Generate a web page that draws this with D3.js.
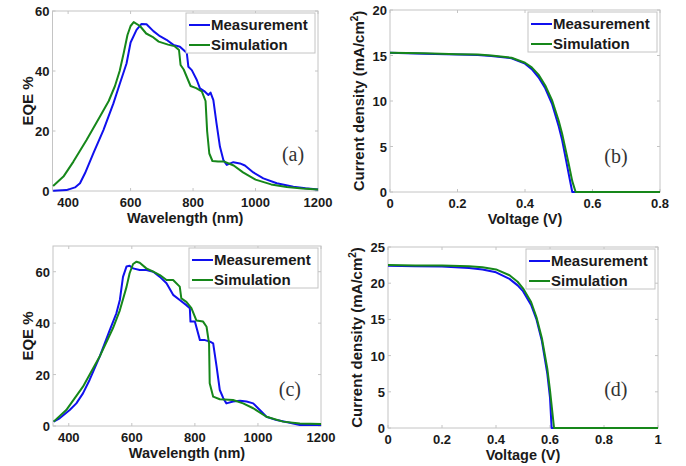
<!DOCTYPE html>
<html>
<head>
<meta charset="utf-8">
<script src="https://cdn.jsdelivr.net/npm/d3@7"></script>
<style>
  body { margin: 0; background: #fff; }
  svg { display: block; }
  text { font-family: Arial, "Liberation Sans", Helvetica, sans-serif; }
  text.tag { font-family: "Liberation Serif", "Times New Roman", serif; }
</style>
</head>
<body>
<script>
// EQE, panel (a): [wavelength nm, EQE %]
const eqeMeasA = [[352,0.1],[395,0.3],[422,1.2],[438,2.6],[454,5.9],[481,12.6],[513,20.3],[545,29.2],[566,35.9],[587,42.5],[600,49.5],[619,53.7],[635,55.7],[651,55.6],[673,53.3],[694,51.6],[715,50.4],[737,48.7],[758,48.1],[774,46.6],[780,46],[785,41.4],[796,40.3],[812,37],[822,34.2],[838,33.1],[849,32],[856,32.8],[865,30.3],[875,22.6],[886,14.8],[897,10.3],[908,8.7],[929,9.6],[950,9.2],[966,8.5],[993,6.2],[1025,4.2],[1068,2.6],[1121,1.4],[1160,0.9],[1200,0.5]];
const eqeSimA = [[352,1.7],[385,4.8],[417,9.8],[459,17],[502,24.8],[530,30],[550,35],[565,40],[578,46],[590,52],[600,55],[610,56.3],[630,55],[650,52.5],[670,51.4],[690,49.8],[705,49.3],[720,48.8],[740,48.3],[755,47],[760,42],[770,40.5],[780,38],[792,35],[810,34.3],[828,33.2],[840,30],[845,20],[852,12.5],[862,10],[880,9.8],[900,9.8],[930,8.5],[960,6.2],[1000,3.8],[1050,2.2],[1100,1.3],[1150,0.8],[1200,0.5]];

// EQE, panel (c)
const eqeMeasC = [[352,1.7],[371,3],[403,6.2],[424,8.8],[445,12.7],[466,17.9],[498,27],[530,37.3],[551,43.8],[562,49],[572,58],[583,62],[593,62.3],[604,61.3],[625,60.7],[646,60.7],[668,60],[689,58],[710,55.5],[731,51],[752,49],[773,47],[784,45.8],[786,40.6],[800,40.6],[816,33.4],[832,33.4],[848,32.8],[858,32.1],[869,23],[879,14],[890,10.8],[900,8.8],[921,9.5],[943,9.8],[964,9.5],[985,8.8],[1006,6.2],[1027,3.6],[1059,2.3],[1101,1.3],[1133,0.4],[1200,0.4]];
const eqeSimC = [[352,1.7],[392,6.2],[445,15.3],[498,27],[540,38],[562,45],[583,54],[593,59.4],[604,63],[615,63.9],[625,63.5],[646,61.3],[668,60],[689,58.7],[710,56.8],[731,56.8],[752,54.2],[757,49.6],[773,48.3],[789,45.8],[805,41],[826,40.6],[837,38.6],[845,32],[847,16.6],[858,11.4],[879,10.4],[921,10.1],[953,8.8],[985,6.9],[1027,3.6],[1080,1.7],[1133,1],[1200,0.8]];

// J-V, panel (b): [voltage V, current density mA/cm2]
const jvMeasB = [[0,15.3],[0.1,15.2],[0.2,15.1],[0.26,15.05],[0.3,14.95],[0.36,14.7],[0.4,14.1],[0.42,13.5],[0.44,12.6],[0.46,11.4],[0.48,9.7],[0.5,7.2],[0.51,5.7],[0.52,3.8],[0.53,1.9],[0.54,0],[0.8,0]];
const jvSimB = [[0,15.3],[0.1,15.25],[0.2,15.15],[0.26,15.1],[0.3,15],[0.36,14.75],[0.4,14.2],[0.42,13.7],[0.44,12.9],[0.46,11.7],[0.48,10.1],[0.5,7.8],[0.51,6.4],[0.52,4.7],[0.53,3],[0.54,1.2],[0.55,0],[0.8,0]];

// J-V, panel (d)
const jvMeasD = [[0,22.4],[0.1,22.35],[0.2,22.3],[0.3,22.1],[0.35,21.9],[0.4,21.5],[0.45,20.6],[0.48,19.7],[0.5,18.9],[0.53,17],[0.55,15],[0.57,12],[0.59,7.5],[0.6,4.2],[0.606,0],[1,0]];
const jvSimD = [[0,22.5],[0.1,22.45],[0.2,22.45],[0.3,22.35],[0.35,22.2],[0.4,21.9],[0.45,21.1],[0.48,20.2],[0.5,19.3],[0.53,17.4],[0.55,15.3],[0.57,12.4],[0.59,8.2],[0.6,5.2],[0.615,0],[1,0]];

const seriesNames = ["Measurement", "Simulation"];
const seriesColors = ["#1010ee", "#16871a"];
const eqeXTicks = [400, 600, 800, 1000, 1200];

const panels = [
  { meas: eqeMeasA, sim: eqeSimA, x0: 52.5, y0: 11, w: 265.5, h: 180, xDom: [350, 1200], yDom: [0, 60],
    xTicks: eqeXTicks, yTicks: [0, 20, 40, 60], xLabel: "Wavelength (nm)", yLabel: "EQE %", tag: "(a)", tagX: 0.906, tagY: 0.833 },
  { meas: jvMeasB, sim: jvSimB, x0: 390, y0: 10, w: 270, h: 182, xDom: [0, 0.8], yDom: [0, 20],
    xTicks: [0, 0.2, 0.4, 0.6, 0.8], yTicks: [0, 5, 10, 15, 20], xLabel: "Voltage (V)", yLabel: "jv", tag: "(b)", tagX: 0.837, tagY: 0.84 },
  { meas: eqeMeasC, sim: eqeSimC, x0: 53, y0: 246, w: 268, h: 180, xDom: [350, 1200], yDom: [0, 70],
    xTicks: eqeXTicks, yTicks: [0, 20, 40, 60], xLabel: "Wavelength (nm)", yLabel: "EQE %", tag: "(c)", tagX: 0.884, tagY: 0.833 },
  { meas: jvMeasD, sim: jvSimD, x0: 388, y0: 247, w: 270, h: 181, xDom: [0, 1], yDom: [0, 25],
    xTicks: [0, 0.2, 0.4, 0.6, 0.8, 1], yTicks: [0, 5, 10, 15, 20, 25], xLabel: "Voltage (V)", yLabel: "jv", tag: "(d)", tagX: 0.844, tagY: 0.823 }
];

const svg = d3.select("body").append("svg")
  .attr("width", 686)
  .attr("height", 466);

panels.forEach(p => {
  const x = d3.scaleLinear().domain(p.xDom).range([p.x0, p.x0 + p.w]);
  const y = d3.scaleLinear().domain(p.yDom).range([p.y0 + p.h, p.y0]);
  const g = svg.append("g");

  // Frame
  g.append("rect")
    .attr("x", p.x0).attr("y", p.y0)
    .attr("width", p.w).attr("height", p.h)
    .attr("fill", "none").attr("stroke", "#c4c4c4").attr("stroke-width", 1);

  // Inward ticks on all four sides
  p.xTicks.forEach(t => {
    g.append("line").attr("x1", x(t)).attr("x2", x(t)).attr("y1", p.y0 + p.h).attr("y2", p.y0 + p.h - 3).attr("stroke", "#c4c4c4");
    g.append("line").attr("x1", x(t)).attr("x2", x(t)).attr("y1", p.y0).attr("y2", p.y0 + 3).attr("stroke", "#c4c4c4");
    g.append("text")
      .attr("x", x(t)).attr("y", p.y0 + p.h + 16)
      .attr("text-anchor", "middle")
      .attr("font-size", 13).attr("font-weight", "bold").attr("fill", "#1a1a1a")
      .text(t);
  });
  p.yTicks.forEach(t => {
    g.append("line").attr("x1", p.x0).attr("x2", p.x0 + 3).attr("y1", y(t)).attr("y2", y(t)).attr("stroke", "#c4c4c4");
    g.append("line").attr("x1", p.x0 + p.w).attr("x2", p.x0 + p.w - 3).attr("y1", y(t)).attr("y2", y(t)).attr("stroke", "#c4c4c4");
    g.append("text")
      .attr("x", p.x0 - 3).attr("y", y(t) + 5)
      .attr("text-anchor", "end")
      .attr("font-size", 13).attr("font-weight", "bold").attr("fill", "#1a1a1a")
      .text(t);
  });

  // Curves
  const line = d3.line().x(d => x(d[0])).y(d => y(d[1]));
  [p.meas, p.sim].forEach((data, i) => {
    g.append("path")
      .datum(data)
      .attr("d", line)
      .attr("fill", "none")
      .attr("stroke", seriesColors[i])
      .attr("stroke-width", 2)
      .attr("stroke-linejoin", "round");
  });

  // Axis labels
  g.append("text")
    .attr("x", p.x0 + p.w / 2).attr("y", p.y0 + p.h + 32)
    .attr("text-anchor", "middle")
    .attr("font-size", 14.5).attr("font-weight", "bold").attr("fill", "#1a1a1a")
    .text(p.xLabel);

  const yl = g.append("text")
    .attr("transform", "translate(" + (p.yLabel === "jv" ? p.x0 - 26 : p.x0 - 20) + "," + (p.y0 + p.h / 2) + ") rotate(-90)")
    .attr("text-anchor", "middle")
    .attr("font-size", 15).attr("font-weight", "bold").attr("fill", "#1a1a1a");
  if (p.yLabel === "jv") {
    yl.append("tspan").text("Current density (mA/cm");
    yl.append("tspan").attr("font-size", 10).attr("dy", -6).text("2");
    yl.append("tspan").attr("dy", 6).text(")");
  } else {
    yl.text(p.yLabel);
  }

  // Legend
  const lw = 129, lh = 40;
  const lx = p.x0 + p.w - 3 - lw, ly = p.y0 + 2;
  g.append("rect")
    .attr("x", lx).attr("y", ly).attr("width", lw).attr("height", lh)
    .attr("fill", "#fff").attr("stroke", "#c4c4c4");
  seriesNames.forEach((name, i) => {
    const cy = ly + 12 + i * 20;
    g.append("line")
      .attr("x1", lx + 3).attr("x2", lx + 24)
      .attr("y1", cy).attr("y2", cy)
      .attr("stroke", seriesColors[i]).attr("stroke-width", 2);
    g.append("text")
      .attr("x", lx + 25).attr("y", cy + 5)
      .attr("font-size", 15).attr("font-weight", "bold").attr("fill", "#1a1a1a")
      .text(name);
  });

  // Panel tag
  g.append("text")
    .attr("class", "tag")
    .attr("x", p.x0 + p.tagX * p.w).attr("y", p.y0 + p.tagY * p.h)
    .attr("text-anchor", "middle")
    .attr("font-size", 20).attr("fill", "#333")
    .text(p.tag);
});
</script>
</body>
</html>
